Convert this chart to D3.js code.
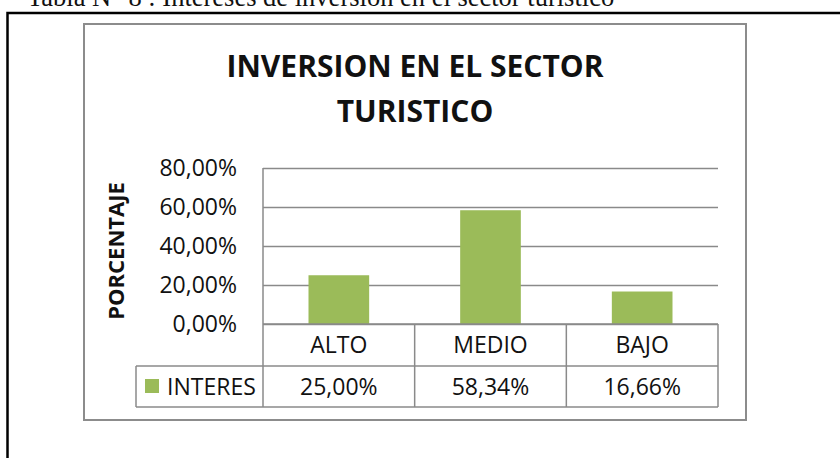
<!DOCTYPE html>
<html lang="es">
	<head>
		<meta charset="utf-8">
		<title>Inversion en el sector turistico</title>
		<script type="text/javascript" src="https://cdn.jsdelivr.net/npm/d3@7"></script>
		<style type="text/css">
			body { margin: 0px; background: white; }
			text { font-family: "Open Sans", sans-serif; fill: #111; }
			.caption { font-family: "Liberation Serif", serif; }
		</style>
	</head>
	<body>
		<script type="text/javascript">
			//Data
			var categories = ["ALTO", "MEDIO", "BAJO"];
			var values = [0.25, 0.5834, 0.1666];
			var seriesName = "INTERES";
			var yTicks = [0, 0.2, 0.4, 0.6, 0.8];
			var titleLines = ["INVERSION EN EL SECTOR", "TURISTICO"];
			var yTitle = "PORCENTAJE";
			var caption = "Tabla N° 8 : Intereses de inversión en el sector turístico";

			//Setup
			var w = 840;
			var h = 458;
			var green = "#9bbb59";
			var lineGray = "#8a8a8a";

			var es = d3.formatLocale({decimal: ",", thousands: ".", grouping: [3], currency: ["", "€"]});
			var pct = es.format(".2%");

			var svg = d3.select("body")
				.append("svg")
				.attr("width", w)
				.attr("height", h);

			svg.append("rect").attr("width", w).attr("height", h).attr("fill", "white");

			//caption above the frame (cut off at top, as on the page scan)
			svg.append("text")
				.attr("class", "caption")
				.attr("x", 27)
				.attr("y", 6)
				.style("font-size", "26.5px")
				.text(caption);

			//outer black frame
			svg.append("path")
				.attr("d", "M7.5," + h + "V13H" + w)
				.attr("fill", "none")
				.attr("stroke", "black")
				.attr("stroke-width", 2.5);

			//chart box
			svg.append("rect")
				.attr("x", 84)
				.attr("y", 24)
				.attr("width", 662)
				.attr("height", 396)
				.attr("fill", "white")
				.attr("stroke", "#8c8c8c")
				.attr("stroke-width", 2);

			//Title
			svg.append("g").selectAll("text")
				.data(titleLines)
				.enter()
				.append("text")
				.attr("x", 415)
				.attr("y", function(d, i) { return 77 + i * 45; })
				.attr("text-anchor", "middle")
				.style("font-size", "30px")
				.style("font-weight", "bold")
				.text(function(d) { return d; });

			//Scales
			var x = d3.scaleBand()
				.domain(categories)
				.range([263, 718]);

			var y = d3.scaleLinear()
				.domain([0, 0.8])
				.range([324, 168]);

			//Gridlines
			svg.append("g")
				.attr("transform", "translate(263,0)")
				.call(d3.axisLeft(y).tickValues(yTicks).tickSize(-455).tickFormat(""))
				.call(function(g) {
					g.select(".domain").remove();
					g.selectAll("line").attr("stroke", lineGray).attr("stroke-width", 1.5);
				});

			//Tick labels
			svg.append("g")
				.attr("transform", "translate(237,0)")
				.call(d3.axisLeft(y).tickValues(yTicks).tickSize(0).tickPadding(0).tickFormat(pct))
				.call(function(g) {
					g.select(".domain").remove();
					g.selectAll("text")
						.style("font-size", "23px")
						.style("font-family", "Open Sans, sans-serif")
						.attr("fill", "#111");
				});

			//Bars
			var barW = x.bandwidth() * 0.4;
			svg.append("g").selectAll("rect")
				.data(values)
				.enter()
				.append("rect")
				.attr("x", function(d, i) { return x(categories[i]) + (x.bandwidth() - barW) / 2; })
				.attr("y", function(d) { return y(d); })
				.attr("width", barW)
				.attr("height", function(d) { return y(0) - y(d); })
				.attr("fill", green);

			//Data table
			var row1 = 324, row2 = 366, row3 = 407;
			var table = svg.append("g")
				.attr("fill", "none")
				.attr("stroke", lineGray)
				.attr("stroke-width", 1.5);

			//y axis line running down through table
			table.append("line").attr("x1", 263).attr("x2", 263).attr("y1", 168).attr("y2", row3);
			//horizontal lines
			table.append("line").attr("x1", 263).attr("x2", 718).attr("y1", row1).attr("y2", row1);
			table.append("line").attr("x1", 136).attr("x2", 718).attr("y1", row2).attr("y2", row2);
			table.append("line").attr("x1", 136).attr("x2", 718).attr("y1", row3).attr("y2", row3);
			table.append("line").attr("x1", 136).attr("x2", 136).attr("y1", row2).attr("y2", row3);
			//column dividers
			table.selectAll(".col")
				.data(categories)
				.enter()
				.append("line")
				.attr("x1", function(d) { return x(d) + x.bandwidth(); })
				.attr("x2", function(d) { return x(d) + x.bandwidth(); })
				.attr("y1", row1)
				.attr("y2", row3);

			//category labels
			svg.append("g").selectAll("text")
				.data(categories)
				.enter()
				.append("text")
				.attr("x", function(d) { return x(d) + x.bandwidth() / 2; })
				.attr("y", (row1 + row2) / 2 + 8)
				.attr("text-anchor", "middle")
				.style("font-size", "23px")
				.text(function(d) { return d; });

			//value labels
			svg.append("g").selectAll("text")
				.data(values)
				.enter()
				.append("text")
				.attr("x", function(d, i) { return x(categories[i]) + x.bandwidth() / 2; })
				.attr("y", (row2 + row3) / 2 + 8)
				.attr("text-anchor", "middle")
				.style("font-size", "23px")
				.text(function(d) { return pct(d); });

			//legend key
			svg.append("rect")
				.attr("x", 145)
				.attr("y", 379)
				.attr("width", 14)
				.attr("height", 14)
				.attr("fill", green);

			svg.append("text")
				.attr("x", 167)
				.attr("y", (row2 + row3) / 2 + 8)
				.style("font-size", "23px")
				.text(seriesName);

			//y axis title
			svg.append("text")
				.attr("transform", "translate(124,251) rotate(-90)")
				.attr("text-anchor", "middle")
				.style("font-size", "22px")
				.style("font-weight", "bold")
				.text(yTitle);
		</script>
	</body>
</html>
